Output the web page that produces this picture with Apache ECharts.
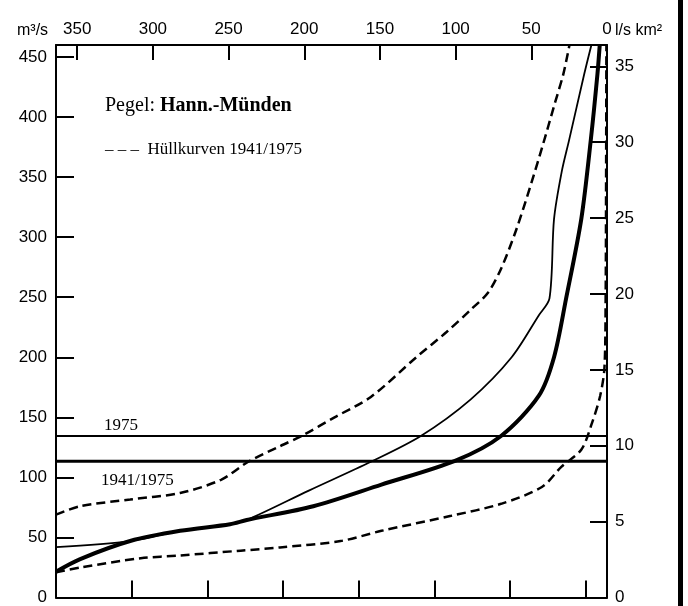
<!DOCTYPE html>
<html><head><meta charset="utf-8">
<script src="https://cdn.jsdelivr.net/npm/echarts@6/dist/echarts.min.js"></script>
<style>html,body{margin:0;padding:0;background:#fff}#c{width:688px;height:606px}</style>
</head><body><div id="c"></div>
<script>
// Days on top axis, discharge m³/s on left axis, specific discharge l/s km² on right axis
const topTicks = [0, 50, 100, 150, 200, 250, 300, 350];
const bottomTicks = [14, 64, 114, 164, 214, 264, 314];
const leftTicks = [0, 50, 100, 150, 200, 250, 300, 350, 400, 450];
const rightTicks = [0, 5, 10, 15, 20, 25, 30, 35];

// Mean duration curve 1941/1975 (thick)
const meanDays = [364, 348, 315, 282, 249, 238, 194, 149, 100, 70, 45, 35, 27, 17, 10.7, 6.3, 4.8];
const meanQ    = [21.5, 32, 47, 55.5, 61, 64.5, 76, 94, 114, 134.5, 168, 200, 249, 315, 381, 436, 460];

// Duration curve 1975 (thin)
const y1975Days = [364, 315, 282, 249, 238, 197, 156, 123, 90, 63, 45, 38, 35, 30, 25, 15, 10.3];
const y1975Q    = [42, 47, 55.5, 61, 64.5, 89, 113, 134.5, 165, 200, 235, 249, 315, 354, 381, 436, 460];

// Upper envelope (dashed)
const upperDays = [364, 348, 315, 282, 255, 237, 216, 201, 180, 156, 126, 106, 89.7, 78.5, 69.9, 60, 50, 42.1, 34.8, 28.8, 24.8];
const upperQ    = [69, 76, 81.6, 87, 98, 113, 126, 135, 150, 167, 200, 221, 240, 254, 274, 306, 345, 378, 410, 436, 460];

// Lower envelope (dashed)
const lowerDays = [364, 348, 308, 282, 242, 216, 176, 149, 103, 70, 43, 30, 17, 10, 4.5, 1.7, 0.9, 0.6, 0.4];
const lowerQ    = [21, 25, 32.7, 35, 39, 41.7, 47, 55.5, 68, 78, 92, 109, 123, 145, 168, 191, 250, 350, 460];

// Mean flows (horizontal lines)
const mq1975 = 134.5;
const mq1941_1975 = 113.5;

const pairs = (xs, ys) => xs.map((x, i) => [x, ys[i]]);
const chart = echarts.init(document.getElementById('c'));
const ax = { onZero: false, lineStyle: { color: '#000', width: 2 } };
const lblFont = { color: '#000', fontSize: 17, fontFamily: 'Liberation Sans, Arial' };
chart.setOption({
  animation: false,
  grid: { left: 56, right: 81, top: 45, bottom: 6 },
  xAxis: [
    { type: 'value', position: 'top', inverse: true, min: 0, max: 364,
      axisLine: ax, splitLine: { show: false },
      axisTick: { inside: true, length: 15, lineStyle: { color: '#000', width: 2 }, customValues: topTicks },
      axisLabel: Object.assign({ customValues: topTicks, margin: 7 }, lblFont) },
    { type: 'value', position: 'bottom', inverse: true, min: 0, max: 364,
      axisLine: ax, splitLine: { show: false },
      axisTick: { inside: true, length: 17, lineStyle: { color: '#000', width: 2 }, customValues: bottomTicks },
      axisLabel: { show: false } }
  ],
  yAxis: [
    { type: 'value', position: 'left', min: 0, max: 460,
      axisLine: ax, splitLine: { show: false },
      axisTick: { inside: true, length: 18, lineStyle: { color: '#000', width: 2 }, customValues: leftTicks },
      axisLabel: Object.assign({ customValues: leftTicks, margin: 9 }, lblFont) },
    { type: 'value', position: 'right', min: 0, max: 36.4,
      axisLine: ax, splitLine: { show: false },
      axisTick: { inside: true, length: 17, lineStyle: { color: '#000', width: 2 }, customValues: rightTicks },
      axisLabel: Object.assign({ customValues: rightTicks, margin: 8 }, lblFont) }
  ],
  series: [
    { type: 'line', data: pairs(upperDays, upperQ), smooth: 0.3, symbol: 'none', clip: true,
      lineStyle: { color: '#000', width: 2.5, type: [9, 5] } },
    { type: 'line', data: pairs(lowerDays, lowerQ), smooth: 0.3, symbol: 'none', clip: true,
      lineStyle: { color: '#000', width: 2.5, type: [9, 5] } },
    { type: 'line', data: pairs(y1975Days, y1975Q), smooth: 0.3, symbol: 'none', clip: true,
      lineStyle: { color: '#000', width: 1.8 } },
    { type: 'line', data: pairs(meanDays, meanQ), smooth: 0.3, symbol: 'none', clip: true,
      lineStyle: { color: '#000', width: 4 } },
    { type: 'line', data: [[0, mq1975], [364, mq1975]], symbol: 'none',
      lineStyle: { color: '#000', width: 2 } },
    { type: 'line', data: [[0, mq1941_1975], [364, mq1941_1975]], symbol: 'none',
      lineStyle: { color: '#000', width: 3 } }
  ],
  graphic: [
    { type: 'text', left: 17, top: 23, style: { text: 'm³/s', font: '16px Liberation Sans, Arial', fill: '#000' } },
    { type: 'text', left: 615, top: 23, style: { text: 'l/s km²', font: '16px Liberation Sans, Arial', fill: '#000' } },
    { type: 'text', left: 105, top: 96, style: { rich: { n: { font: '20px Liberation Serif, serif', fill: '#000' }, b: { font: 'bold 20px Liberation Serif, serif', fill: '#000' } }, text: '{n|Pegel: }{b|Hann.-Münden}' } },
    { type: 'text', left: 105, top: 141, style: { text: '– – –  Hüllkurven 1941/1975', font: '17px Liberation Serif, serif', fill: '#000' } },
    { type: 'text', left: 104, top: 417, style: { text: '1975', font: '17px Liberation Serif, serif', fill: '#000' } },
    { type: 'text', left: 101, top: 472, style: { text: '1941/1975', font: '17px Liberation Serif, serif', fill: '#000' } },
    { type: 'rect', shape: { x: 678, y: 0, width: 5, height: 606 }, style: { fill: '#000' } }
  ]
});
</script></body></html>
